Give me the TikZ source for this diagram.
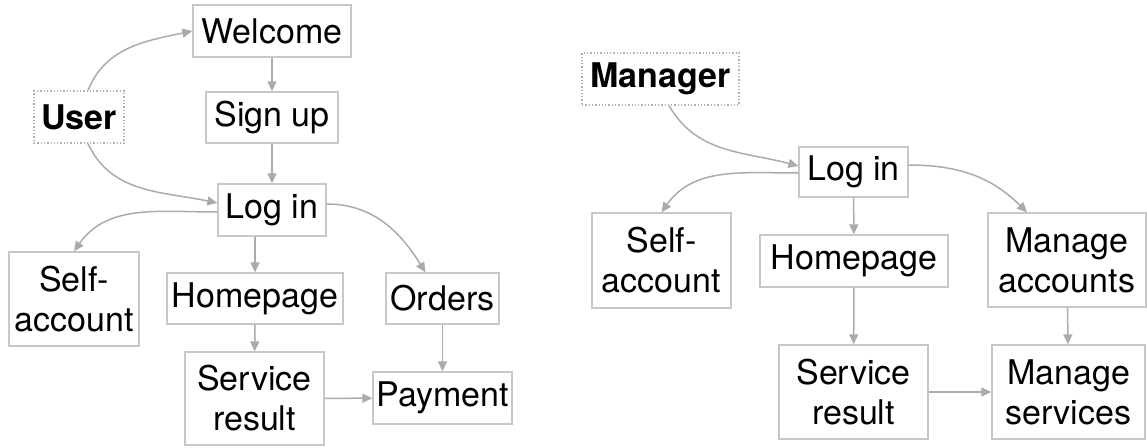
\documentclass[tikz,border=0pt]{standalone}
\usepackage{fontspec}
\setmainfont{TeX Gyre Heros}
\usetikzlibrary{arrows.meta}
\definecolor{edgegray}{HTML}{ABABAB}
\definecolor{boxgray}{HTML}{C8C8C8}
\definecolor{dotgray}{HTML}{B0B0B0}
\begin{document}
\begin{tikzpicture}[x=1pt,y=-1pt,
  screen/.style 2 args={draw=boxgray, line width=1.3pt, inner sep=0pt,
    align=center, minimum width=#1pt, minimum height=#2pt,
    font=\fontsize{34}{40}\selectfont},
  actor/.style 2 args={draw=dotgray, line width=1.3pt, dotted, inner sep=0pt,
    minimum width=#1pt, minimum height=#2pt,
    font=\fontsize{34}{40}\selectfont\bfseries},
  flow/.style={draw=edgegray, line width=1.5pt,
    -{Triangle[length=10pt,width=9pt]}}]
\useasboundingbox (0,0) rectangle (1147,447);

% ---- user side ----
\node[actor={90}{52}]   (user)    at (79,117)    {User};
\node[screen={158}{52}] (welcome) at (272,31)    {Welcome};
\node[screen={132}{51}] (signup)  at (272,117.5) {Sign up};
\node[screen={108}{52}] (login1)  at (272,210)   {Log in};
\node[screen={130}{94}] (self1)   at (74,299)    {Self-\\account};
\node[screen={176}{51}] (home1)   at (255,298.5) {Homepage};
\node[screen={113}{51}] (orders)  at (442.5,298.5) {Orders};
\node[screen={139}{93}] (serv1)   at (254.5,398.5) {Service\\result};
\node[screen={139}{52}] (payment) at (442.5,398) {Payment};

\draw[flow] ([xshift=9pt]user.north) to[out=68,in=192] (welcome.west);
\draw[flow] ([xshift=9pt]user.south) to[out=-65,in=168] ([yshift=7pt]login1.west);
\draw[flow] (welcome) -- (signup);
\draw[flow] (signup) -- (login1);
\draw[flow] ([yshift=-2pt]login1.west) to[out=180,in=55] (self1.north);
\draw[flow] (login1.south -| home1.north) -- (home1.north);
\draw[flow] ([yshift=6pt]login1.east) to[out=0,in=122] ([xshift=-17pt]orders.north);
\draw[flow] (home1) -- (serv1);
\draw[flow] (orders) -- (payment);
\draw[flow] (serv1) -- (payment);

% ---- manager side ----
\node[actor={157}{52}]  (manager) at (660.5,79)  {Manager};
\node[screen={109}{50}] (login2)  at (853.5,172) {Log in};
\node[screen={139}{95}] (self2)   at (661.5,260.5) {Self-\\account};
\node[screen={188}{52}] (home2)   at (854,261)   {Homepage};
\node[screen={158}{94}] (macc)    at (1067,260)  {Manage\\accounts};
\node[screen={149}{94}] (serv2)   at (853.5,392) {Service\\result};
\node[screen={153}{94}] (msvc)    at (1068.5,392) {Manage\\services};

\draw[flow] ([xshift=8.5pt]manager.south) to[out=-60,in=165] ([yshift=6pt]login2.west);
\draw[flow] ([yshift=-1pt]login2.west) to[out=180,in=55] (self2.north);
\draw[flow] (login2) -- (home2);
\draw[flow] ([yshift=7pt]login2.east) to[out=0,in=135] ([xshift=-40pt]macc.north);
\draw[flow] (home2) -- (serv2);
\draw[flow] (macc) -- (msvc);
\draw[flow] (serv2) -- (msvc);
\end{tikzpicture}
\end{document}
